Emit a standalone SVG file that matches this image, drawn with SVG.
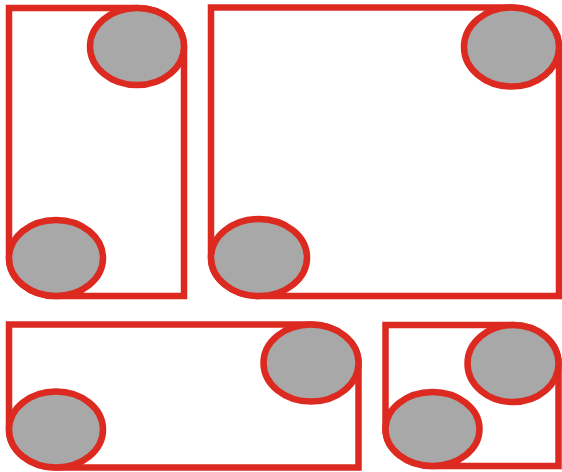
<svg xmlns="http://www.w3.org/2000/svg" width="562" height="472" viewBox="0 0 562 472">
<style>
.frame{fill:#ffffff;stroke:#dc2a20;stroke-width:6.5;stroke-linejoin:miter}
.disc{fill:#a8a8a8;stroke:#dc2a20;stroke-width:6.5}
</style>
<rect width="562" height="472" fill="#ffffff"/>
<g id="shape1">
<path class="frame" d="M9,8 H137 A47,38.5 0 0 1 184,46.5 V296 H56 A47,38 0 0 1 9,258 Z"/>
<ellipse class="disc" cx="137" cy="46.5" rx="47" ry="38.5"/>
<ellipse class="disc" cx="56" cy="258" rx="47" ry="38"/>
</g>
<g id="shape2">
<path class="frame" d="M211,7.5 H511.5 A47.5,39.5 0 0 1 559,47 V296 H259 A48,38.5 0 0 1 211,257.5 Z"/>
<ellipse class="disc" cx="511.5" cy="47" rx="47.5" ry="39.5"/>
<ellipse class="disc" cx="259" cy="257.5" rx="48" ry="38.5"/>
</g>
<g id="shape3">
<path class="frame" d="M9,324.5 H311 A47.5,38.5 0 0 1 358.5,363 V467.5 H56 A47,38 0 0 1 9,429.5 Z"/>
<ellipse class="disc" cx="311" cy="363" rx="47.5" ry="38.5"/>
<ellipse class="disc" cx="56" cy="429.5" rx="47" ry="38"/>
</g>
<g id="shape4">
<path class="frame" d="M385.5,325 H513 A45.5,38.5 0 0 1 558.5,363.5 V466 H432.5 A47,37 0 0 1 385.5,429 Z"/>
<ellipse class="disc" cx="513" cy="363.5" rx="45.5" ry="38.5"/>
<ellipse class="disc" cx="432.5" cy="429" rx="47" ry="37"/>
</g>
<g id="connectors"/>
</svg>
